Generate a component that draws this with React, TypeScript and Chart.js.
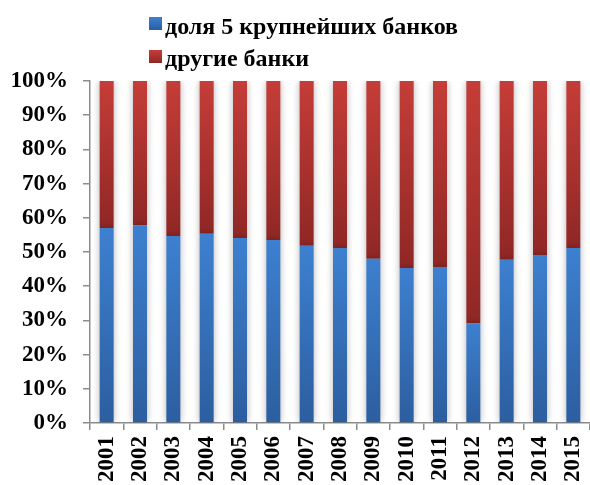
import React, { useEffect, useRef } from 'react';
import { Chart, registerables } from 'chart.js';

Chart.register(...registerables);

const years = ['2001', '2002', '2003', '2004', '2005', '2006', '2007', '2008', '2009', '2010', '2011', '2012', '2013', '2014', '2015'];
const top5Share = [57.0, 57.8, 54.7, 55.3, 54.1, 53.5, 51.8, 51.2, 48.0, 45.3, 45.6, 29.2, 47.7, 49.1, 51.2];
const otherShare = [43.0, 42.2, 45.3, 44.7, 45.9, 46.5, 48.2, 48.8, 52.0, 54.7, 54.4, 70.8, 52.3, 50.9, 48.8];
const seriesLabels = ['доля 5 крупнейших банков', 'другие банки'];
const yMax = 100;
const yStep = 10;

const FONT = "'Liberation Serif', 'Times New Roman', serif";
const BLUE = ['#3D80D0', '#2C5E9F'];
const RED = ['#C53D38', '#8F2725'];

function segmentGradient(c: any, colors: string[]) {
  const chart = c.chart;
  if (!chart.chartArea || c.type !== 'data') return colors[0];
  const ds = chart.data.datasets;
  let base = 0;
  for (let k = 0; k < c.datasetIndex; k++) base += (ds[k].data[c.dataIndex] as number) || 0;
  const val = (ds[c.datasetIndex].data[c.dataIndex] as number) || 0;
  const y = chart.scales.y;
  const yTop = y.getPixelForValue(base + val);
  const yBot = y.getPixelForValue(base);
  if (!isFinite(yTop) || !isFinite(yBot) || yTop === yBot) return colors[0];
  const g = chart.ctx.createLinearGradient(0, yTop, 0, yBot);
  g.addColorStop(0, colors[0]);
  g.addColorStop(1, colors[1]);
  return g;
}

const shadowPlugin = {
  id: 'barShadow',
  beforeDatasetsDraw(chart: any) {
    const ctx = chart.ctx;
    ctx.save();
    ctx.shadowColor = 'rgba(0,0,0,0.3)';
    ctx.shadowBlur = 7;
    ctx.shadowOffsetX = 0;
    ctx.shadowOffsetY = 0;
  },
  afterDatasetsDraw(chart: any) {
    chart.ctx.restore();
  },
};

const legendPlugin = {
  id: 'customLegend',
  afterDraw(chart: any) {
    const ctx = chart.ctx;
    const rows = [
      { label: seriesLabels[0], colors: BLUE, boxY: 17, baseY: 34 },
      { label: seriesLabels[1], colors: RED, boxY: 50, baseY: 66 },
    ];
    ctx.save();
    rows.forEach((r) => {
      const g = ctx.createLinearGradient(0, r.boxY, 0, r.boxY + 13);
      g.addColorStop(0, r.colors[0]);
      g.addColorStop(1, r.colors[1]);
      ctx.fillStyle = g;
      ctx.fillRect(149, r.boxY, 13, 13);
      ctx.fillStyle = '#000';
      ctx.font = `bold 24px ${FONT}`;
      ctx.textAlign = 'left';
      ctx.textBaseline = 'alphabetic';
      ctx.fillText(r.label, 165, r.baseY);
    });
    ctx.restore();
  },
};

export default function App() {
  const ref = useRef<HTMLCanvasElement | null>(null);
  useEffect(() => {
    if (!ref.current) return;
    const chart = new Chart(ref.current, {
      type: 'bar',
      data: {
        labels: years,
        datasets: [
          {
            label: seriesLabels[0],
            data: top5Share,
            backgroundColor: (c: any) => segmentGradient(c, BLUE),
            barPercentage: 0.42,
            categoryPercentage: 1,
          },
          {
            label: seriesLabels[1],
            data: otherShare,
            backgroundColor: (c: any) => segmentGradient(c, RED),
            barPercentage: 0.42,
            categoryPercentage: 1,
          },
        ],
      },
      options: {
        responsive: false,
        animation: false,
        layout: { padding: { top: 81, left: 0, right: 0, bottom: 0 } },
        plugins: {
          legend: { display: false },
          tooltip: { enabled: false },
        },
        scales: {
          x: {
            stacked: true,
            offset: true,
            grid: {
              offset: true,
              drawOnChartArea: false,
              tickLength: 7,
              color: '#8c8c8c',
              lineWidth: 1.5,
            },
            border: { color: '#8c8c8c', width: 1.5 },
            ticks: {
              color: '#000',
              font: { family: FONT, size: 23, weight: 'bold' },
              minRotation: 90,
              maxRotation: 90,
              padding: 6,
              autoSkip: false,
            },
            afterFit(s: any) {
              s.height = 62;
              s.paddingLeft = 0;
              s.paddingRight = 0;
            },
          },
          y: {
            stacked: true,
            min: 0,
            max: yMax,
            grid: {
              drawOnChartArea: false,
              tickLength: 7,
              color: '#8c8c8c',
              lineWidth: 1.5,
            },
            border: { color: '#8c8c8c', width: 1.5 },
            ticks: {
              stepSize: yStep,
              color: '#000',
              padding: 15,
              font: { family: FONT, size: 23, weight: 'bold' },
              callback: (v: any) => `${v}%`,
            },
            afterFit(s: any) {
              s.width = 90;
            },
          },
        },
      },
      plugins: [shadowPlugin, legendPlugin],
    } as any);
    return () => chart.destroy();
  }, []);
  return (
    <div style={{ position: 'fixed', left: 0, top: 0, width: 590, height: 485, background: '#fff' }}>
      <canvas ref={ref} width={590} height={485} style={{ display: 'block' }} />
    </div>
  );
}
